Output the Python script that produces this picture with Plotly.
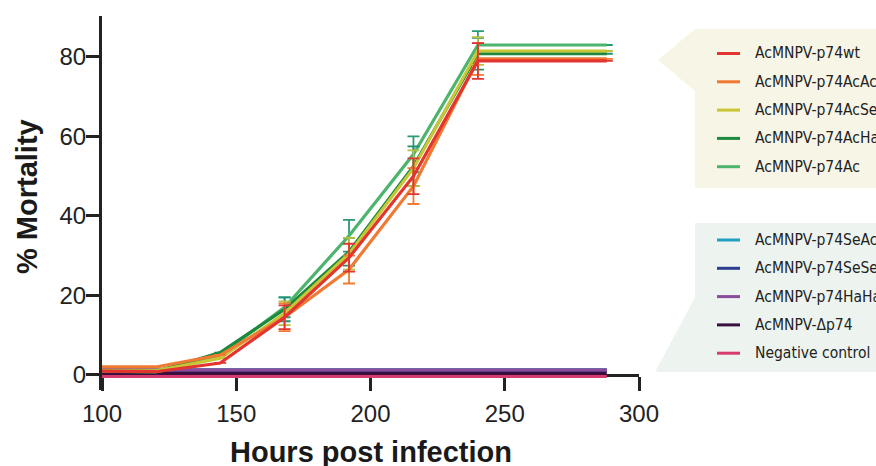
import plotly.graph_objects as go

# ---------------- data ----------------
hours = [96, 120, 144, 168, 192, 216, 240, 288]

series_names = [
    "AcMNPV-p74wt", "AcMNPV-p74AcAc", "AcMNPV-p74AcSe", "AcMNPV-p74AcHa", "AcMNPV-p74Ac",
    "AcMNPV-p74SeAc", "AcMNPV-p74SeSe", "AcMNPV-p74HaHa", "AcMNPV-Δp74", "Negative control",
]
series_colors = [
    "#e3342f", "#f07a32", "#c8c634", "#1b8a3e", "#4cb46c",
    "#1f9fc0", "#2b3d8f", "#8a4a9e", "#3a0f40", "#d63a6e",
]
errbar_colors = [
    "#e3342f", "#f07a32", "#b8c040", "#1f9070", "#2a9a7a",
    "#1f9fc0", "#2b3d8f", "#8a4a9e", "#3a0f40", "#d63a6e",
]

wt_mean = [1.0, 0.8, 3.0, 14.5, 29.5, 50.0, 79.0, 79.0]
wt_err = [None, None, None, 3.0, 3.5, 4.5, 4.5, None]
acac_mean = [2.0, 2.0, 5.0, 14.5, 26.5, 47.5, 79.5, 79.5]
acac_err = [None, None, None, 3.5, 3.5, 4.5, 4.0, None]
acse_mean = [1.0, 1.0, 4.2, 15.5, 30.5, 52.0, 81.5, 81.5]
acse_err = [None, None, None, 3.0, 4.0, 4.5, 3.5, None]
acha_mean = [1.0, 0.7, 5.6, 16.5, 31.0, 52.5, 80.8, 80.8]
acha_err = [None, None, None, 3.0, 3.5, 5.0, 4.0, None]
ac_mean = [1.0, 1.0, 5.0, 17.0, 35.0, 55.5, 83.0, 83.0]
ac_err = [None, None, None, 2.5, 4.0, 4.5, 3.5, None]
seac_mean = [1.2, 1.2, 1.2, 1.2, 1.2, 1.2, 1.2, 1.2]
sese_mean = [1.2, 1.2, 1.2, 1.2, 1.2, 1.2, 1.2, 1.2]
haha_mean = [1.2, 1.2, 1.2, 1.2, 1.2, 1.2, 1.2, 1.2]
dp74_mean = [0.4, 0.4, 0.4, 0.4, 0.4, 0.4, 0.4, 0.4]
neg_mean = [-0.4, -0.4, -0.4, -0.4, -0.4, -0.4, -0.4, -0.4]

means = [wt_mean, acac_mean, acse_mean, acha_mean, ac_mean,
         seac_mean, sese_mean, haha_mean, dp74_mean, neg_mean]
errs = [wt_err, acac_err, acse_err, acha_err, ac_err,
        None, None, None, None, None]

x_ticks = [100, 150, 200, 250, 300]
y_ticks = [0, 20, 40, 60, 80]
x_range = [100, 300]
y_range = [-3.8, 90.3]

# ---------------- layout helpers (pixel -> paper) ----------------
W, H = 876, 466
ML, MT = 102, 16
MR = W - 639
MB = H - 390
PW, PH = W - ML - MR, H - MT - MB


def pxx(x):
    return (x - ML) / PW


def pxy(y):
    return (H - MB - y) / PH


fig = go.Figure()

draw_order = [5, 6, 7, 8, 9, 4, 3, 2, 1, 0]
for i in draw_order:
    err = (dict(type="data", array=errs[i], visible=True,
                color=errbar_colors[i], thickness=1.8, width=6)
           if errs[i] is not None else dict(visible=False))
    fig.add_trace(go.Scatter(
        x=hours, y=means[i], name=series_names[i], mode="lines",
        line=dict(color=series_colors[i], width=3.2),
        error_y=err, showlegend=False, hoverinfo="skip",
    ))

axis_font = dict(family="Liberation Sans, Arial, sans-serif", size=24, color="#222")
zero_pos = (0 - y_range[0]) / (y_range[1] - y_range[0])

fig.update_layout(
    width=W, height=H,
    margin=dict(l=ML, r=MR, t=MT, b=MB),
    paper_bgcolor="white", plot_bgcolor="white",
    showlegend=False,
    xaxis=dict(range=x_range, tickvals=x_ticks, showgrid=False, zeroline=False,
               showline=True, linewidth=3, linecolor="#222",
               ticks="outside", ticklen=14, tickwidth=3, tickcolor="#222",
               tickfont=axis_font, anchor="free", position=zero_pos,
               layer="below traces", ticklabelstandoff=2),
    yaxis=dict(range=y_range, tickvals=y_ticks, showgrid=False, zeroline=False,
               showline=True, linewidth=3, linecolor="#222",
               ticks="outside", ticklen=13, tickwidth=3, tickcolor="#222",
               tickfont=axis_font, layer="below traces", ticklabelstandoff=-5),
)

title_font = dict(family="Liberation Sans, Arial, sans-serif", size=29, color="#1a1a1a")
fig.add_annotation(text="<b>Hours post infection</b>", xref="paper", yref="paper",
                   x=pxx(371), y=pxy(452), xanchor="center", yanchor="middle",
                   showarrow=False, font=title_font)
fig.add_annotation(text="<b>% Mortality</b>", xref="paper", yref="paper",
                   x=pxx(27), y=pxy(197), xanchor="center", yanchor="middle",
                   textangle=-90, showarrow=False, font=title_font)


# legend boxes
def path(points):
    return "M " + " L ".join(f"{pxx(a):.5f},{pxy(b):.5f}" for a, b in points) + " Z"


fig.add_shape(type="path", xref="paper", yref="paper", layer="below",
              path=path([(695, 29), (890, 29), (890, 188), (695, 188), (695, 91), (658, 60)]),
              fillcolor="#f7f5e5", line=dict(width=0))
fig.add_shape(type="path", xref="paper", yref="paper", layer="below",
              path=path([(695, 223), (890, 223), (890, 372), (655, 372), (695, 297)]),
              fillcolor="#edf4ef", line=dict(width=0))

rows = [53.5, 81.8, 110.1, 138.4, 166.7, 240, 268.3, 296.6, 324.9, 353.2]
leg_font = dict(family="DejaVu Sans Condensed, Liberation Sans Narrow, Arial Narrow, sans-serif",
                size=15.5, color="#222")
for i, name in enumerate(series_names):
    fig.add_shape(type="line", xref="paper", yref="paper",
                  x0=pxx(717), x1=pxx(740), y0=pxy(rows[i]), y1=pxy(rows[i]),
                  line=dict(color=series_colors[i], width=3))
    fig.add_annotation(text=name, xref="paper", yref="paper",
                       x=pxx(753), y=pxy(rows[i]), xanchor="left", yanchor="middle",
                       showarrow=False, font=leg_font)

fig.write_html(
    "out.html",
    config={"displayModeBar": False},
    post_script="document.body.style.margin='0';document.body.style.overflow='hidden';",
)
